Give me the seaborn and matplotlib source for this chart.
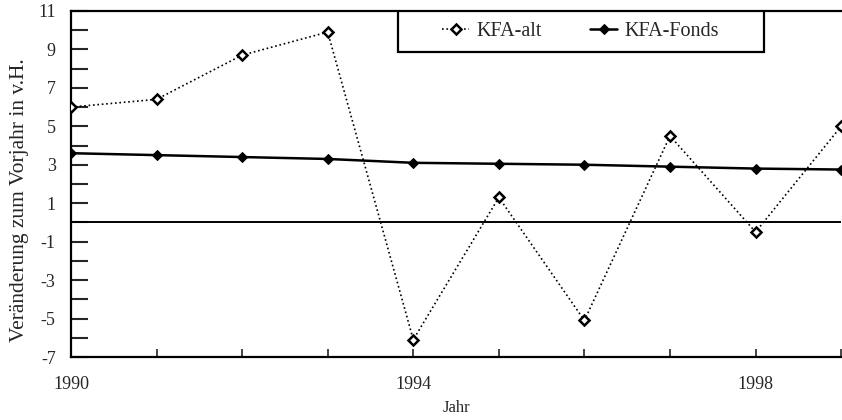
import matplotlib
matplotlib.use("Agg")
import matplotlib.pyplot as plt
from matplotlib.ticker import MultipleLocator, FixedLocator
from matplotlib.patches import Rectangle
import seaborn as sns
import pandas as pd

years = [1990, 1991, 1992, 1993, 1994, 1995, 1996, 1997, 1998, 1999]
kfa_alt = [6.0, 6.4, 8.7, 9.9, -6.1, 1.3, -5.1, 4.5, -0.5, 5.0]
kfa_fonds = [3.6, 3.5, 3.4, 3.3, 3.1, 3.05, 3.0, 2.9, 2.8, 2.75]
y_ticks = [-7, -5, -3, -1, 1, 3, 5, 7, 9, 11]
x_tick_labels = [1990, 1994, 1998]

sns.set_style("ticks")
plt.rcParams["font.family"] = ["Liberation Serif", "DejaVu Serif"]
plt.rcParams["axes.unicode_minus"] = False

df = pd.DataFrame({"Jahr": years, "KFA-alt": kfa_alt, "KFA-Fonds": kfa_fonds})

fig = plt.figure(figsize=(8.42, 4.2), dpi=100)
ax = fig.add_axes([0.0843, 0.15, 0.9147, 0.824])

ax.axhline(0, color="black", linewidth=1.4, zorder=1)

sns.lineplot(data=df, x="Jahr", y="KFA-alt", ax=ax, color="black", linestyle=":",
             linewidth=1.2, marker="D", markersize=5, markerfacecolor="white",
             markeredgecolor="black", markeredgewidth=1.8, label="KFA-alt", zorder=3)
sns.lineplot(data=df, x="Jahr", y="KFA-Fonds", ax=ax, color="black", linestyle="-",
             linewidth=1.8, marker="D", markersize=5.5, markerfacecolor="black",
             markeredgecolor="black", label="KFA-Fonds", zorder=2)

ax.set_xlim(1990, 1999)
ax.set_ylim(-7, 11)
ax.yaxis.set_major_locator(FixedLocator(y_ticks))
ax.yaxis.set_minor_locator(MultipleLocator(1))
ax.xaxis.set_major_locator(FixedLocator(x_tick_labels))
ax.xaxis.set_minor_locator(MultipleLocator(1))

ax.tick_params(axis="y", which="both", direction="in", length=12, width=1.5,
               labelsize=13, pad=11)
ax.tick_params(axis="x", which="both", direction="in", length=6, width=1.2,
               labelsize=13, pad=14)

for side in ["left", "bottom", "top"]:
    ax.spines[side].set_linewidth(1.6)
    ax.spines[side].set_color("black")
ax.spines["right"].set_visible(False)

ax.set_xlabel("Jahr", fontsize=12)
ax.set_ylabel("Veränderung zum Vorjahr in v.H.", fontsize=15.5)
ax.xaxis.set_label_coords(0.5, -0.125)
ax.yaxis.set_label_coords(-0.054, 0.454)

# legend box (frame drawn separately, it is wider than the entries)
box = Rectangle((0.424, 0.8815), 0.476, 0.1185, transform=ax.transAxes,
                facecolor="white", edgecolor="black", linewidth=1.6, zorder=4)
ax.add_patch(box)
leg = ax.legend(loc="center", bbox_to_anchor=(0.662, 0.941), ncol=2,
                frameon=False, fontsize=14.5, borderaxespad=0, borderpad=0,
                columnspacing=2.4, handlelength=1.3, handletextpad=0.4)
leg.set_zorder(5)

fig.savefig("out.png", dpi=100)
